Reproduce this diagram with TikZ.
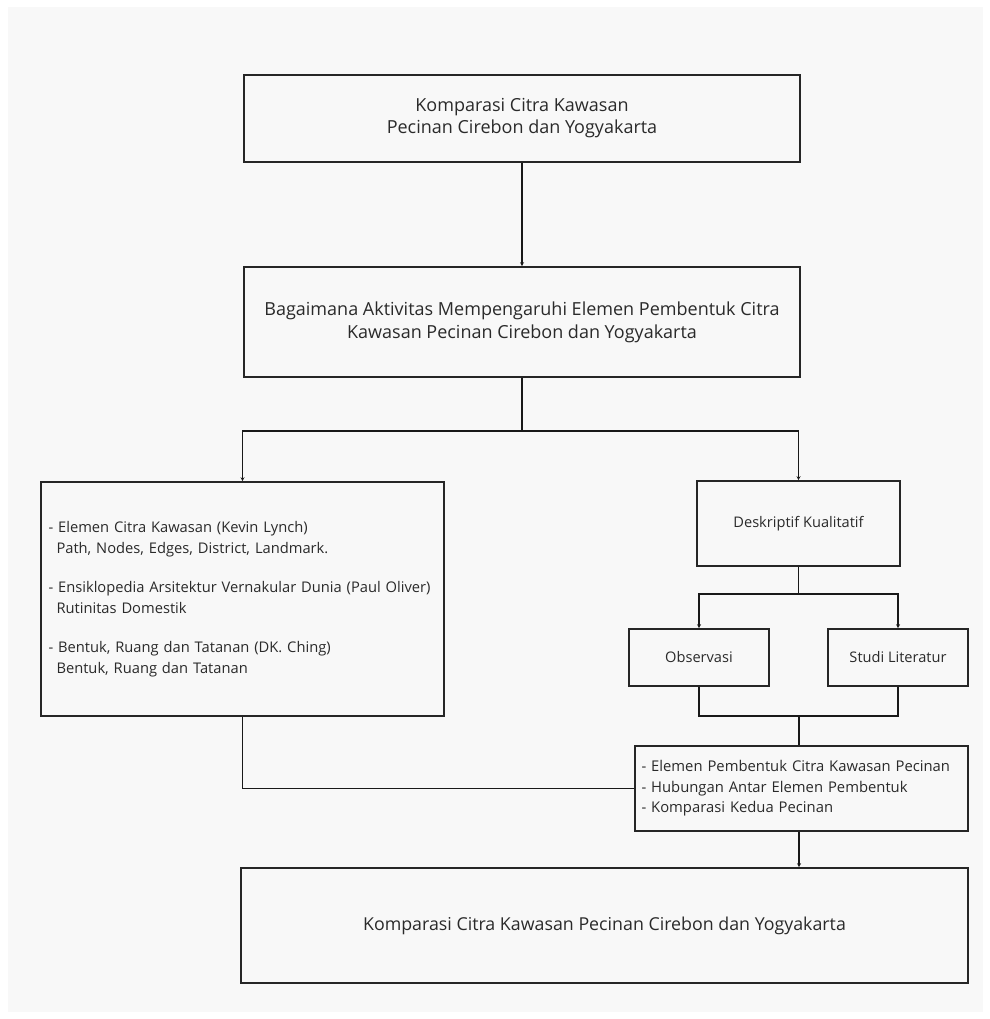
\documentclass[tikz,border=0pt]{standalone}
\usepackage[rgb]{xcolor}
\usepackage{fontspec}
\setmainfont{Open Sans}
\usepackage{tikz}
\usetikzlibrary{arrows.meta,positioning}

\definecolor{panel}{HTML}{F8F8F8}
\definecolor{txt}{HTML}{2A2A2A}

\tikzset{
  kotak/.style={draw=black!85, line width=1.6pt, fill=panel, text=txt, align=center, inner sep=0pt},
  garis/.style={draw=black!90, line width=1.5pt},
  panah/.style={garis, -{Stealth[length=4pt,width=4pt]}}
}

\begin{document}
\begin{tikzpicture}[x=1pt, y=-1pt]

\useasboundingbox (0,0) rectangle (989,1019);
\fill[white] (0,0) rectangle (989,1019);
\fill[panel] (8,7) rectangle (983,1012);


% Judul dan rumusan masalah
\path
(522,118.5) node[kotak, minimum width=556pt, minimum height=87pt, font=\fontsize{18}{22}\selectfont] (judul)
  {Komparasi Citra Kawasan\\Pecinan Cirebon dan Yogyakarta}
(522,322) node[kotak, minimum width=556pt, minimum height=110pt, font=\fontsize{18}{23}\selectfont] (rumusan)
  {Bagaimana Aktivitas Mempengaruhi Elemen Pembentuk Citra\\Kawasan Pecinan Cirebon dan Yogyakarta};


% Teori dan metode
\path
(242.5,599) node[kotak, minimum width=403pt, minimum height=234pt, font=\fontsize{14.7}{20.5}\selectfont, align=left, text width=388pt] (teori)
  {- Elemen Citra Kawasan (Kevin Lynch)\\
   \hspace*{8pt}Path, Nodes, Edges, District, Landmark.\\[19pt]
   - Ensiklopedia Arsitektur Vernakular Dunia (Paul Oliver)\\
   \hspace*{8pt}Rutinitas Domestik\\[19pt]
   - Bentuk, Ruang dan Tatanan (DK. Ching)\\
   \hspace*{8pt}Bentuk, Ruang dan Tatanan}
(798.5,523.5) node[kotak, minimum width=203pt, minimum height=85pt, font=\fontsize{14.6}{17}\selectfont] (metode)
  {Deskriptif Kualitatif}
(699,657.5) node[kotak, minimum width=140pt, minimum height=57pt, font=\fontsize{14.6}{17}\selectfont] (observasi)
  {Observasi}
(898,657.5) node[kotak, minimum width=140pt, minimum height=57pt, font=\fontsize{14.6}{17}\selectfont] (literatur)
  {Studi Literatur};


% Hasil dan kesimpulan
\path
(801.5,788.5) node[kotak, minimum width=333pt, minimum height=85pt, font=\fontsize{14.8}{20.5}\selectfont, align=left, text width=320pt] (hasil)
  {- Elemen Pembentuk Citra Kawasan Pecinan\\
   - Hubungan Antar Elemen Pembentuk\\
   - Komparasi Kedua Pecinan}
(604.5,925.5) node[kotak, minimum width=727pt, minimum height=115pt, font=\fontsize{17.8}{22}\selectfont] (kesimpulan)
  {Komparasi Citra Kawasan Pecinan Cirebon dan Yogyakarta};


% Garis penghubung
\coordinate (cabang) at (522,431);
\coordinate (cabangmetode) at (798.5,594);
\coordinate (gabung) at (799,716);

\draw[panah] (judul) -- (rumusan);
\draw[garis] (rumusan) -- (cabang);
\draw[panah] (cabang) -| (teori);
\draw[panah] (cabang) -| (metode);

\draw[garis] (metode) -- (cabangmetode);
\draw[panah] (cabangmetode) -| (observasi);
\draw[panah] (cabangmetode) -| (literatur);

\draw[garis] (observasi) |- (gabung) -| (literatur);
\draw[garis] (gabung) -- (gabung |- hasil.north);
\draw[garis] (teori) |- (hasil);

\draw[panah] (gabung |- hasil.south) -- (gabung |- kesimpulan.north);

\end{tikzpicture}
\end{document}
